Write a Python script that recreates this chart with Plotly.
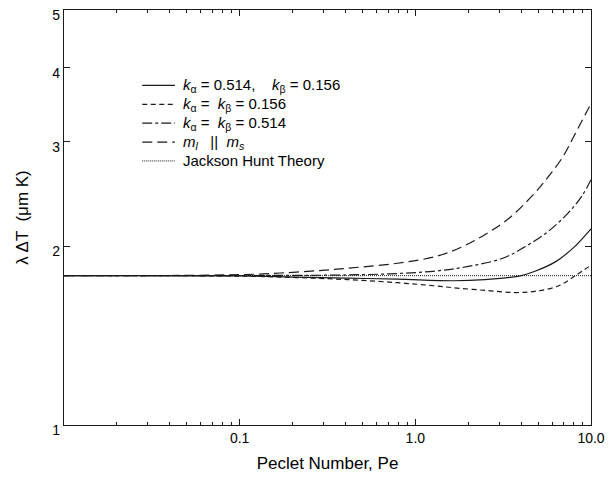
import plotly.graph_objects as go

# Data (Peclet number vs lambda*DeltaT)
solid_pe = [0.01, 0.1, 0.21, 0.41, 0.79, 1.65, 2.5, 3.9, 4.8, 6.3, 8.1, 10.0]
solid_vals = [1.785, 1.783, 1.775, 1.768, 1.761, 1.75, 1.758, 1.782, 1.816, 1.885, 2.0, 2.14]

short_pe = [0.01, 0.1, 0.21, 0.41, 0.79, 1.32, 1.65, 2.5, 3.6, 4.8, 6.5, 8.1, 10.0]
short_vals = [1.785, 1.782, 1.772, 1.758, 1.737, 1.715, 1.703, 1.686, 1.672, 1.68, 1.715, 1.782, 1.86]

dashdot_pe = [0.01, 0.1, 0.41, 0.79, 1.32, 2.0, 3.15, 4.25, 5.7, 7.4, 8.9, 10.0]
dashdot_vals = [1.785, 1.786, 1.79, 1.8, 1.818, 1.85, 1.91, 2.0, 2.119, 2.275, 2.434, 2.59]

long_pe = [0.01, 0.1, 0.21, 0.41, 0.79, 1.32, 1.87, 2.5, 3.4, 4.8, 5.7, 6.9, 8.1, 10.0]
long_vals = [1.785, 1.792, 1.81, 1.837, 1.873, 1.924, 2.0, 2.095, 2.228, 2.462, 2.618, 2.828, 3.09, 3.48]

jh_pe = [0.01, 10.0]
jh_vals = [1.785, 1.785]

names = [
    "<i>k</i><sub>α</sub> = 0.514, &nbsp;&nbsp; <i>k</i><sub>β</sub> = 0.156",
    "<i>k</i><sub>α</sub> = &nbsp;<i>k</i><sub>β</sub> = 0.156",
    "<i>k</i><sub>α</sub> = &nbsp;<i>k</i><sub>β</sub> = 0.514",
    "<i>m</i><sub><i>l</i></sub> &nbsp;&nbsp;|| &nbsp;<i>m</i><sub><i>s</i></sub>",
    "Jackson Hunt Theory",
]

x_major = [0.1, 1.0, 10.0]
x_major_text = ["0.1", "1.0", "10.0"]
x_minor = [0.02, 0.03, 0.04, 0.05, 0.06, 0.07, 0.08, 0.09,
           0.2, 0.3, 0.4, 0.5, 0.6, 0.7, 0.8, 0.9,
           2, 3, 4, 5, 6, 7, 8, 9]
y_ticks = [1, 2, 3, 4, 5]

col = "#1a1a1a"
dashes = ["solid", "5px,3.5px", "10px,3px,3px,3px", "10px,5px", "1px,1px"]
widths = [1.2, 1.2, 1.2, 1.2, 1.0]
series = [
    (solid_pe, solid_vals),
    (short_pe, short_vals),
    (dashdot_pe, dashdot_vals),
    (long_pe, long_vals),
    (jh_pe, jh_vals),
]

fig = go.Figure()
for (xs, ys), nm, dash, w in zip(series, names, dashes, widths):
    fig.add_trace(go.Scatter(x=xs, y=ys, mode="lines", name=nm, showlegend=False,
                             line=dict(color=col, width=w, dash=dash, shape="spline", smoothing=1.0)))

# Manual legend (tighter row spacing than plotly's built-in legend)
L, R, T, B = 64, 16, 7, 55
W, H = 612, 480
pw, ph = W - L - R, H - T - B


def px2paper(px, py):
    return (px - L) / pw, (H - B - py) / ph


row_y = [83, 102, 121, 140, 159]
for i, (nm, dash, w) in enumerate(zip(names, dashes, widths)):
    x0, y0 = px2paper(143, row_y[i])
    x1, _ = px2paper(176, row_y[i])
    xt, _ = px2paper(182, row_y[i])
    fig.add_shape(type="line", xref="paper", yref="paper", x0=x0, x1=x1, y0=y0, y1=y0,
                  line=dict(color=col, width=w, dash=dash))
    fig.add_annotation(xref="paper", yref="paper", x=xt, y=y0, text=nm, showarrow=False,
                       xanchor="left", yanchor="middle", font=dict(size=15, color="black"))

fig.update_layout(
    width=W, height=H,
    margin=dict(l=L, r=R, t=T, b=B),
    paper_bgcolor="white", plot_bgcolor="white",
    font=dict(family="Liberation Sans, Arial, sans-serif", size=14, color="black"),
    showlegend=False,
)
fig.update_xaxes(
    type="log", range=[-2.0, 1.0],
    tickmode="array", tickvals=x_major, ticktext=x_major_text,
    ticks="inside", ticklen=6, tickcolor=col,
    minor=dict(tickmode="array", tickvals=x_minor, ticks="inside", ticklen=3, tickcolor=col),
    showline=True, linecolor=col, linewidth=1.2, mirror="ticks",
    showgrid=False, zeroline=False,
    title=dict(text="Peclet Number, Pe", standoff=12),
)
fig.update_yaxes(
    type="log", range=[0, 0.6993],
    tickmode="array", tickvals=y_ticks, ticktext=[str(v) for v in y_ticks],
    ticks="inside", ticklen=6, tickcolor=col,
    ticklabelshift=5,
    showline=True, linecolor=col, linewidth=1.2, mirror="ticks",
    showgrid=False, zeroline=False,
    title=dict(text="λ ΔT &nbsp;(μm K)", standoff=19),
)
fig.write_html("out.html")
